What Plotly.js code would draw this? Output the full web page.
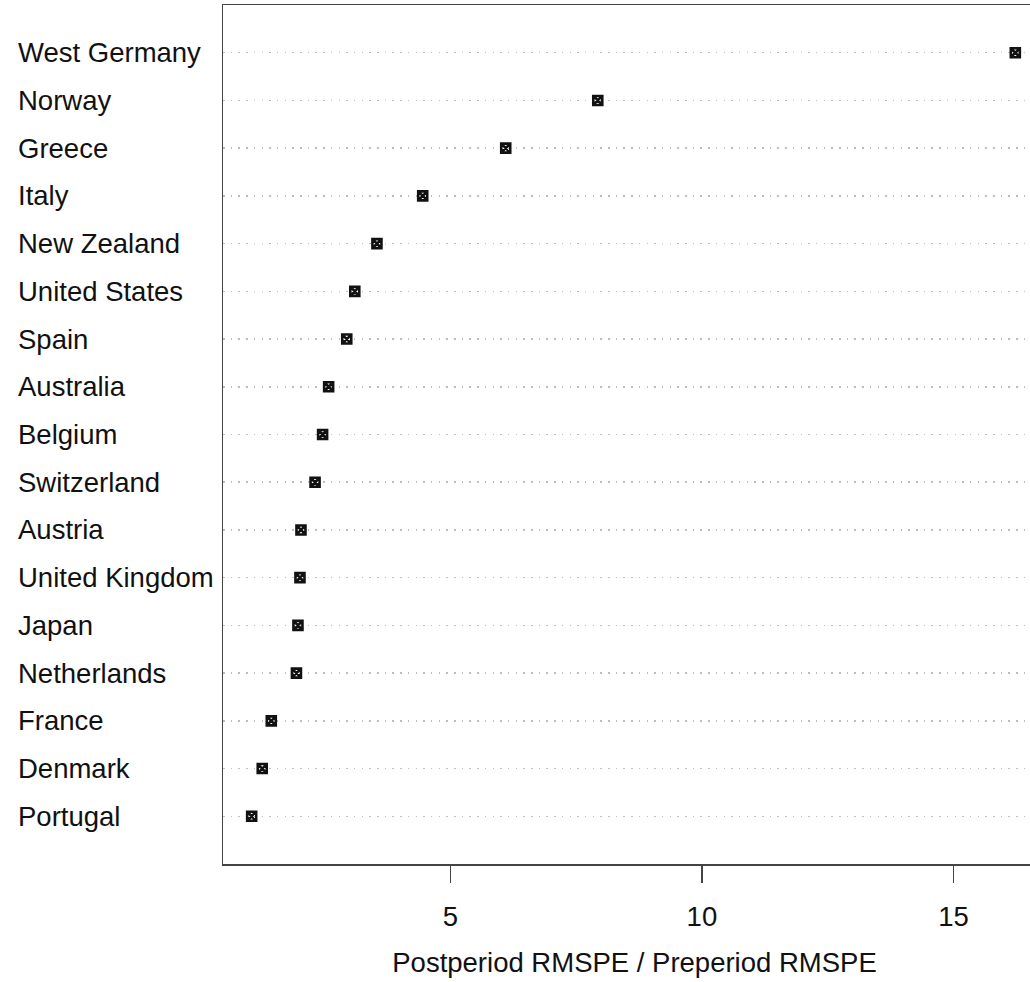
<!DOCTYPE html>
<html>
<head>
<meta charset="utf-8">
<script src="https://cdn.plot.ly/plotly-3.0.1.min.js"></script>
<style>
html, body { margin: 0; padding: 0; overflow: hidden; background: #fff; }
#chart { width: 1060px; height: 982px; }
</style>
</head>
<body>
<div id="chart"></div>
<script>
// Countries, top to bottom as drawn
const countries = ["West Germany", "Norway", "Greece", "Italy", "New Zealand", "United States",
  "Spain", "Australia", "Belgium", "Switzerland", "Austria", "United Kingdom", "Japan",
  "Netherlands", "France", "Denmark", "Portugal"];
// Ratio of postperiod RMSPE to preperiod RMSPE
const ratios = [16.23, 7.93, 6.10, 4.45, 3.54, 3.10, 2.94, 2.58, 2.46, 2.31, 2.03, 2.01, 1.97,
  1.94, 1.44, 1.26, 1.05];
const xTicks = [5, 10, 15];
const xTitle = "Postperiod RMSPE / Preperiod RMSPE";

const FONT = "Liberation Sans, Arial, Helvetica, sans-serif";
const bottomToTop = countries.slice().reverse();

const trace = {
  type: "scatter",
  mode: "markers",
  x: ratios,
  y: countries,
  marker: {
    symbol: "square-x-open",
    size: 9,
    color: "#111",
    line: { color: "#111", width: 2.6 }
  },
  hoverinfo: "x+y",
  showlegend: false
};

const annotations = countries.map(c => ({
  xref: "paper", yref: "y",
  x: (16 - 223) / 823, y: c,
  xanchor: "left", yanchor: "middle",
  text: c, showarrow: false,
  font: { family: FONT, size: 27.5, color: "#111" }
}));

const layout = {
  width: 1060,
  height: 982,
  margin: { l: 223, r: 14, t: 5, b: 118 },
  paper_bgcolor: "#fff",
  plot_bgcolor: "#fff",
  font: { family: FONT, size: 27.5, color: "#111" },
  xaxis: {
    range: [0.48, 16.84],
    tickvals: xTicks,
    ticktext: xTicks.map(String),
    ticks: "outside",
    ticklen: 17,
    tickwidth: 1.5,
    tickcolor: "#444",
    ticklabelstandoff: 10,
    showgrid: false,
    zeroline: false,
    showline: true,
    mirror: true,
    linecolor: "#444",
    linewidth: 1.5,
    tickfont: { family: FONT, size: 27.5, color: "#111" },
    title: { text: xTitle, standoff: 22, font: { family: FONT, size: 27.5, color: "#111" } }
  },
  yaxis: {
    type: "category",
    categoryorder: "array",
    categoryarray: bottomToTop,
    range: [-1, countries.length],
    showticklabels: false,
    ticks: "",
    showgrid: true,
    gridcolor: "#bdbdbd",
    gridwidth: 1.5,
    griddash: "1.5px,6.2px",
    zeroline: false,
    showline: true,
    mirror: true,
    linecolor: "#444",
    linewidth: 1.5
  },
  annotations: annotations
};

Plotly.newPlot("chart", [trace], layout, { displayModeBar: false, staticPlot: true });
</script>
</body>
</html>
